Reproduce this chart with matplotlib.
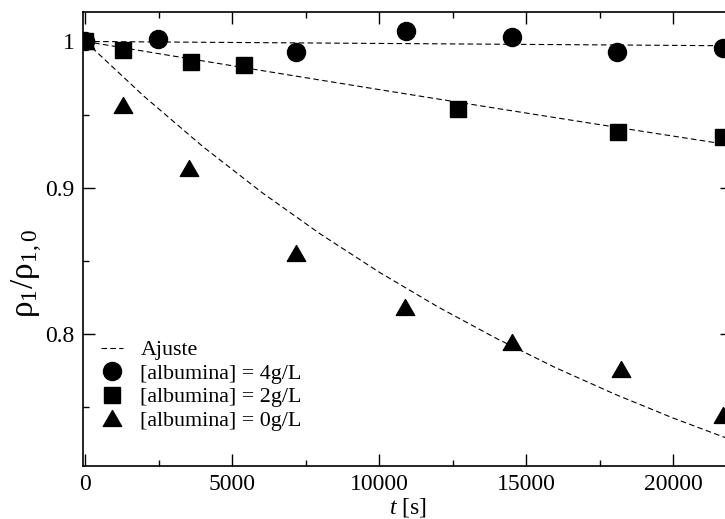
import matplotlib
matplotlib.use("Agg")
import matplotlib.pyplot as plt
from matplotlib.ticker import MultipleLocator, FuncFormatter
from matplotlib.path import Path

plt.rcParams['font.family'] = ['Liberation Serif', 'DejaVu Serif']
plt.rcParams['mathtext.fontset'] = 'custom'
plt.rcParams['mathtext.rm'] = 'Liberation Serif'
plt.rcParams['mathtext.it'] = 'Liberation Serif:italic'

# measured data
t_4 = [0, 2480, 7170, 10910, 14510, 18100, 21700]
r_4 = [1.000, 1.0017, 0.9926, 1.0072, 1.0033, 0.9926, 0.9953]
t_2 = [0, 1290, 3600, 5400, 12670, 18130, 21700]
r_2 = [1.000, 0.9942, 0.9857, 0.9839, 0.9538, 0.9378, 0.9348]
t_0 = [0, 1290, 3540, 7160, 10880, 14520, 18210, 21700]
r_0 = [1.000, 0.9565, 0.9131, 0.8549, 0.8180, 0.7944, 0.7755, 0.7445]

# fitted curves
t_fit = [0, 2000, 4000, 6000, 8000, 10000, 12000, 14000, 16000, 18000, 20000, 22000]
fit_4 = [1.0, 0.99973, 0.99947, 0.99920, 0.99894, 0.99867, 0.99840, 0.99814,
         0.99787, 0.99761, 0.99734, 0.99707]
fit_2 = [1.0, 0.99332, 0.98669, 0.98010, 0.97356, 0.96705, 0.96060, 0.95418,
         0.94781, 0.94148, 0.93520, 0.92895]
fit_0 = [1.0, 0.9624, 0.9280, 0.8967, 0.8681, 0.8420, 0.8182, 0.7965,
         0.7766, 0.7586, 0.7421, 0.7270]

labels = ['Ajuste', '[albumina] = 4g/L', '[albumina] = 2g/L', '[albumina] = 0g/L']

tri = Path([(-1, -0.866), (1, -0.866), (0, 0.866), (-1, -0.866)],
           [Path.MOVETO, Path.LINETO, Path.LINETO, Path.CLOSEPOLY])

fig = plt.figure(figsize=(7.25, 5.19), dpi=100)
ax = fig.add_axes([82.7/725, 1-465.7/519, (732-82.7)/725, (465.7-11.7)/519])

dash = dict(color='black', lw=0.8, dashes=(5, 3), zorder=2)
l_fit, = ax.plot(t_fit, fit_4, **dash)
ax.plot(t_fit, fit_2, **dash)
ax.plot(t_fit, fit_0, **dash)

h4, = ax.plot(t_4, r_4, linestyle='none', marker='o', ms=13, color='black', zorder=3)
h2, = ax.plot(t_2, r_2, linestyle='none', marker='s', ms=11.8, color='black', zorder=3)
h0, = ax.plot(t_0, r_0, linestyle='none', marker=tri, ms=13.2, color='black', zorder=3)

ax.set_xlim(-90, 22000)
ax.set_ylim(0.7095, 1.0204)

ax.xaxis.set_major_locator(MultipleLocator(5000))
ax.xaxis.set_minor_locator(MultipleLocator(2500))
ax.yaxis.set_major_locator(MultipleLocator(0.1))
ax.yaxis.set_minor_locator(MultipleLocator(0.05))
ax.yaxis.set_major_formatter(FuncFormatter(lambda v, p: '%g' % round(v, 3)))

ax.tick_params(which='both', direction='in', top=True, right=True, labelsize=17,
               width=1.0, color='black')
ax.tick_params(which='major', length=8.6, pad=6)
ax.tick_params(which='minor', length=4.3)
for s in ax.spines.values():
    s.set_linewidth(1.2)

ax.set_xlabel('$t$ [s]', fontsize=17, labelpad=1)
ax.set_ylabel('ρ$_1$/ρ$_{1,0}$', fontsize=24)
ax.yaxis.set_label_coords(-0.058, 0.423)

leg = ax.legend([l_fit, h4, h2, h0], labels, loc='upper left',
                bbox_to_anchor=(101/725, 1-340/519), bbox_transform=fig.transFigure,
                frameon=False, fontsize=15.8, handlelength=1.0, handletextpad=0.8,
                labelspacing=0.14, borderpad=0, borderaxespad=0)

fig.savefig('out.png', dpi=100)
